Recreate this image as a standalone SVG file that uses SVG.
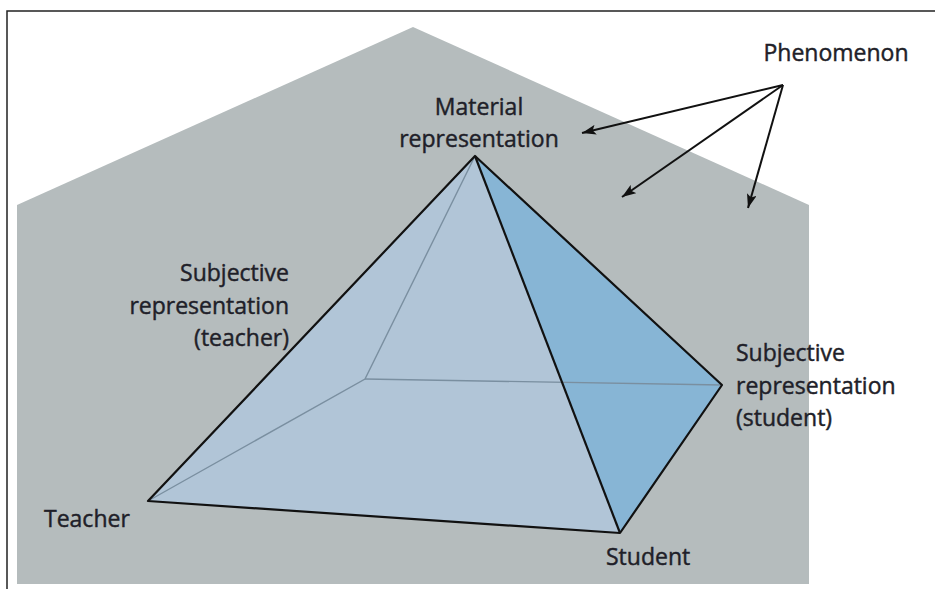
<svg xmlns="http://www.w3.org/2000/svg" width="935" height="589" viewBox="0 0 935 589">
  <style>
    .lbl { font-family: "Open Sans", "Noto Sans", "Liberation Sans", sans-serif; font-size: 23px; fill: #1f1f29; stroke: #1f1f29; stroke-width: 0.45; }
    .edge { stroke: #111; stroke-width: 2.2; fill: none; stroke-linejoin: round; }
    .hidden { stroke: #7a8fa0; stroke-width: 1.4; fill: none; }
    .arrow { stroke: #111; stroke-width: 2; fill: none; }
  </style>
  <defs>
    <marker id="ah" viewBox="0 0 14 10" refX="14" refY="5" markerWidth="14" markerHeight="10" markerUnits="userSpaceOnUse" orient="auto">
      <path d="M0,0 L14,5 L0,10 L3,5 Z" fill="#111"/>
    </marker>
  </defs>
  <rect x="0" y="0" width="935" height="589" fill="#ffffff"/>
  <path d="M7,589 L7,11 L935,11" fill="none" stroke="#222" stroke-width="1.5"/>
  <g id="phenomenon-plane">
    <polygon points="17,205 413,27 809,205 809,584 17,584" fill="#b5bcbd"/>
  </g>
  <g id="pyramid">
    <polygon points="475,156 148,501 620,533 722,385" fill="#b1c5d7"/>
    <polygon points="475,156 620,533 722,385" fill="#87b5d5"/>
    <polyline class="hidden" points="475,156 365,379 148,501"/>
    <line class="hidden" x1="365" y1="379" x2="722" y2="385"/>
    <polygon class="edge" points="475,156 148,501 620,533 722,385"/>
    <line class="edge" x1="475" y1="156" x2="620" y2="533"/>
  </g>
  <g id="node-material">
    <text class="lbl" x="479" y="115" text-anchor="middle">Material</text>
    <text class="lbl" x="479" y="147" text-anchor="middle">representation</text>
  </g>
  <g id="node-subj-teacher">
    <text class="lbl" x="289" y="281" text-anchor="end">Subjective</text>
    <text class="lbl" x="289" y="313.5" text-anchor="end">representation</text>
    <text class="lbl" x="289" y="346" text-anchor="end">(teacher)</text>
  </g>
  <g id="node-subj-student">
    <text class="lbl" x="736" y="361">Subjective</text>
    <text class="lbl" x="736" y="393.5">representation</text>
    <text class="lbl" x="736" y="426">(student)</text>
  </g>
  <g id="node-teacher">
    <text class="lbl" x="44" y="527">Teacher</text>
  </g>
  <g id="node-student">
    <text class="lbl" x="606" y="565">Student</text>
  </g>
  <g id="node-phenomenon">
    <text class="lbl" x="836" y="61" text-anchor="middle">Phenomenon</text>
  </g>
  <g id="connectors">
    <line class="arrow" x1="783" y1="85" x2="582" y2="133" marker-end="url(#ah)"/>
    <line class="arrow" x1="783" y1="85" x2="622" y2="197" marker-end="url(#ah)"/>
    <line class="arrow" x1="783" y1="85" x2="748" y2="208" marker-end="url(#ah)"/>
  </g>
</svg>
